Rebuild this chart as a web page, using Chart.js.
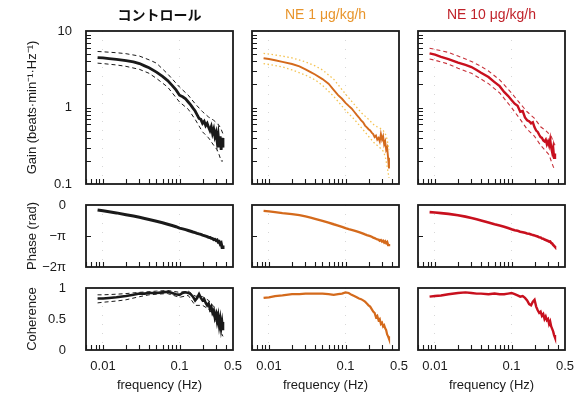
<!DOCTYPE html>
<html>
<head>
<meta charset="utf-8">
<script src="https://cdn.jsdelivr.net/npm/chart.js@4.4.1/dist/chart.umd.min.js"></script>
<style>
  body { margin: 0; background: #fff; }
  #fig { position: relative; width: 584px; height: 396px; }
  #fig canvas { position: absolute; left: 0; top: 0; }
</style>
</head>
<body>
<div id="fig"></div>
<script>
// frequency grid of the transfer function estimates (Hz)
const freqs = [0.0085, 0.01, 0.012, 0.015, 0.02, 0.025, 0.03, 0.035, 0.04,
  0.05, 0.06, 0.07, 0.08, 0.09,
  0.1, 0.11, 0.12, 0.13, 0.14, 0.15, 0.16, 0.17, 0.18, 0.19,
  0.2, 0.21, 0.22, 0.23, 0.24, 0.25, 0.26, 0.27, 0.28, 0.29,
  0.3, 0.31, 0.32, 0.33, 0.34, 0.35, 0.36, 0.37];
// coarser grid for the confidence limits
const ciFreqs = [0.0085, 0.01, 0.015, 0.02, 0.03, 0.04, 0.05, 0.07, 0.1,
  0.13, 0.16, 0.2, 0.24, 0.28, 0.31, 0.33, 0.35, 0.37];

// gain (beats/min/Hz)
const gainCtrl = [4.5, 4.45, 4.35, 4.25, 4.1, 3.95, 3.75, 3.5, 3.3,
  2.9, 2.55, 2.25, 1.95, 1.7,
  1.45, 1.38, 1.3, 1.18, 1.08, 0.98, 0.9, 0.8, 0.72, 0.7,
  0.62, 0.66, 0.58, 0.62, 0.55, 0.5, 0.56, 0.46, 0.52, 0.42,
  0.47, 0.36, 0.44, 0.3, 0.42, 0.28, 0.4, 0.3];
const gainCtrlHi = [5.4, 5.35, 5.2, 5.05, 4.7, 4.2, 3.8, 2.75, 1.85, 1.45, 1.12, 0.88, 0.75, 0.68, 0.62, 0.58, 0.52, 0.45];
const gainCtrlLo = [3.8, 3.75, 3.6, 3.45, 3.15, 2.8, 2.4, 1.85, 1.18, 0.95, 0.7, 0.48, 0.4, 0.32, 0.28, 0.24, 0.2, 0.2];

const gainNe1 = [4.4, 4.3, 4.15, 3.95, 3.7, 3.45, 3.15, 2.9, 2.7,
  2.35, 2.05, 1.7, 1.45, 1.3,
  1.15, 1.05, 0.97, 0.88, 0.8, 0.74, 0.68, 0.64, 0.58, 0.55,
  0.52, 0.5, 0.47, 0.45, 0.41, 0.43, 0.38, 0.4, 0.36, 0.45,
  0.38, 0.42, 0.33, 0.36, 0.28, 0.3, 0.22, 0.16];
const gainNe1Hi = [5.1, 5.0, 4.7, 4.45, 3.95, 3.5, 3.1, 2.35, 1.5, 1.1, 0.86, 0.7, 0.58, 0.54, 0.5, 0.46, 0.38, 0.28];
const gainNe1Lo = [3.75, 3.65, 3.4, 3.1, 2.65, 2.3, 1.95, 1.4, 0.92, 0.7, 0.55, 0.42, 0.34, 0.3, 0.27, 0.23, 0.17, 0.12];

const gainNe10 = [5.1, 4.9, 4.6, 4.3, 3.85, 3.6, 3.38, 3.1, 2.85,
  2.5, 2.15, 1.9, 1.6, 1.42,
  1.25, 1.12, 1.05, 0.88, 0.9, 0.74, 0.68, 0.66, 0.62, 0.64,
  0.55, 0.5, 0.48, 0.44, 0.41, 0.4, 0.37, 0.36, 0.38, 0.33,
  0.36, 0.32, 0.38, 0.3, 0.26, 0.3, 0.22, 0.25];
const gainNe10Hi = [5.95, 5.75, 5.25, 4.7, 4.0, 3.45, 3.0, 2.3, 1.55, 1.12, 0.88, 0.72, 0.56, 0.5, 0.45, 0.42, 0.36, 0.32];
const gainNe10Lo = [4.3, 4.15, 3.7, 3.25, 2.8, 2.35, 2.05, 1.55, 1.0, 0.7, 0.52, 0.42, 0.32, 0.27, 0.24, 0.2, 0.17, 0.15];

// phase (rad)
const phaseCtrl = [-0.5, -0.58, -0.68, -0.8, -0.98, -1.12, -1.25, -1.37, -1.47,
  -1.65, -1.8, -1.95, -2.08, -2.2,
  -2.35, -2.42, -2.5, -2.58, -2.66, -2.74, -2.8, -2.87, -2.93, -2.98,
  -3.05, -3.1, -3.15, -3.2, -3.28, -3.3, -3.38, -3.4, -3.5, -3.48,
  -3.6, -3.55, -3.75, -3.7, -3.95, -3.85, -4.3, -4.1];
const phaseNe1 = [-0.6, -0.65, -0.72, -0.82, -0.92, -1.02, -1.15, -1.28, -1.4,
  -1.6, -1.78, -1.95, -2.08, -2.22,
  -2.35, -2.45, -2.52, -2.6, -2.68, -2.75, -2.82, -2.9, -2.98, -3.05,
  -3.1, -3.15, -3.22, -3.3, -3.35, -3.42, -3.48, -3.5, -3.62, -3.55,
  -3.7, -3.62, -3.8, -3.68, -3.85, -3.75, -4.05, -3.95];
const phaseNe10 = [-0.72, -0.76, -0.82, -0.9, -1.03, -1.18, -1.32, -1.45, -1.56,
  -1.78, -1.95, -2.08, -2.2, -2.33,
  -2.45, -2.55, -2.62, -2.7, -2.76, -2.82, -2.88, -2.92, -2.98, -3.05,
  -3.08, -3.15, -3.2, -3.28, -3.3, -3.4, -3.42, -3.5, -3.55, -3.6,
  -3.65, -3.72, -3.7, -3.85, -3.9, -4.05, -4.15, -4.25];

// coherence
const cohCtrl = [0.83, 0.83, 0.84, 0.85, 0.87, 0.89, 0.91, 0.91, 0.92,
  0.92, 0.93, 0.94, 0.92, 0.9,
  0.89, 0.92, 0.93, 0.92, 0.9, 0.86, 0.8, 0.84, 0.9, 0.84,
  0.8, 0.82, 0.76, 0.72, 0.75, 0.66, 0.7, 0.6, 0.64, 0.52,
  0.58, 0.46, 0.55, 0.4, 0.5, 0.35, 0.45, 0.32];
const cohCtrlHi = [0.89, 0.89, 0.9, 0.91, 0.93, 0.94, 0.95, 0.96, 0.93, 0.95, 0.87, 0.86, 0.8, 0.7, 0.62, 0.55, 0.5, 0.45];
const cohCtrlLo = [0.76, 0.77, 0.79, 0.81, 0.86, 0.89, 0.9, 0.91, 0.85, 0.88, 0.72, 0.72, 0.66, 0.55, 0.42, 0.35, 0.28, 0.22];
const cohNe1 = [0.84, 0.85, 0.87, 0.88, 0.9, 0.9, 0.91, 0.91, 0.91,
  0.91, 0.9, 0.89, 0.9, 0.91,
  0.93, 0.92, 0.89, 0.87, 0.85, 0.83, 0.82, 0.8, 0.78, 0.75,
  0.72, 0.7, 0.66, 0.62, 0.6, 0.53, 0.55, 0.48, 0.5, 0.42,
  0.44, 0.38, 0.4, 0.35, 0.32, 0.25, 0.22, 0.18];
const cohNe10 = [0.86, 0.87, 0.88, 0.9, 0.92, 0.93, 0.92, 0.91, 0.91,
  0.9, 0.91, 0.9, 0.9, 0.91,
  0.92, 0.9, 0.88, 0.86, 0.87, 0.84, 0.8, 0.74, 0.72, 0.78,
  0.81, 0.7, 0.64, 0.6, 0.62, 0.55, 0.58, 0.5, 0.54, 0.48,
  0.5, 0.42, 0.46, 0.38, 0.34, 0.3, 0.24, 0.2];

const groupTitles = ['コントロール', 'NE 1 μg/kg/h', 'NE 10 μg/kg/h'];
const rowTitles = ['Gain (beats·min⁻¹·Hz⁻¹)', 'Phase (rad)', 'Coherence'];
const freqTicks = [0.01, 0.1, 0.5];
const freqMinorTicks = [0.006, 0.007, 0.008, 0.009, 0.01, 0.02, 0.03, 0.04, 0.05,
  0.06, 0.07, 0.08, 0.09, 0.1, 0.2, 0.3, 0.4];
const gainTicks = [0.1, 1, 10];
const gainMinorTicks = [0.2, 0.3, 0.4, 0.5, 0.6, 0.7, 0.8, 0.9, 1, 2, 3, 4, 5, 6, 7, 8, 9];
const phaseTicks = [-2 * Math.PI, -Math.PI, 0];
const phaseTickLabels = ['−2π', '−π', '0'];
const cohTicks = [0, 0.5, 1];

// panel boxes in page pixels
const colLeft = [86, 252, 418], colRight = [233, 399, 565];
const rowTop = [31, 205, 288], rowBottom = [184, 267, 350];

const groupColors = ['#111', '#e8952c', '#c0222a'];
const lineColors = ['#1a1a1a', '#d46a1c', '#c8101e'];

Chart.defaults.font.family = "'Liberation Sans', Arial, sans-serif";
Chart.defaults.color = '#1a1a1a';

// frame plus inward tick marks
const panelFrame = {
  id: 'panelFrame',
  afterDraw(chart, args, opts) {
    const { ctx, chartArea: a, scales } = chart;
    ctx.save();
    ctx.strokeStyle = '#1a1a1a';
    ctx.lineWidth = 1.8;
    ctx.strokeRect(a.left, a.top, a.right - a.left, a.bottom - a.top);
    ctx.lineWidth = 1.1;
    ctx.beginPath();
    for (const v of freqMinorTicks) {
      const x = Math.round(scales.x.getPixelForValue(v)) + 0.5;
      ctx.moveTo(x, a.bottom);
      ctx.lineTo(x, a.bottom - 5);
    }
    for (const v of opts.yTicks || []) {
      const y = Math.round(scales.y.getPixelForValue(v)) + 0.5;
      ctx.moveTo(a.left, y);
      ctx.lineTo(a.left + 5, y);
    }
    ctx.stroke();
    ctx.restore();
  }
};

function series(xs, ys, color, width, dash) {
  return {
    data: xs.map((x, i) => ({ x: x, y: ys[i] })),
    borderColor: color,
    borderWidth: width,
    borderDash: dash || [],
    pointRadius: 0,
    tension: 0,
    fill: false
  };
}

function yAxis(row, col) {
  const first = col === 0;
  const base = {
    afterFit: s => { s.width = first ? colLeft[0] : 0; },
    grid: { display: false },
    border: { display: false },
    title: {
      display: first, text: rowTitles[row],
      font: { size: 13 }, padding: { top: 25, bottom: 0 }
    }
  };
  if (row === 0) {
    return Object.assign(base, {
      type: 'logarithmic', min: 0.1, max: 10,
      afterBuildTicks: s => { s.ticks = gainTicks.map(v => ({ value: v })); },
      ticks: { display: first, padding: 6, font: { size: 13 }, callback: v => String(v) }
    });
  }
  if (row === 1) {
    return Object.assign(base, {
      type: 'linear', min: -2 * Math.PI, max: 0,
      afterBuildTicks: s => { s.ticks = phaseTicks.map(v => ({ value: v })); },
      ticks: { display: first, padding: 12, font: { size: 13 }, callback: (v, i) => phaseTickLabels[i] }
    });
  }
  return Object.assign(base, {
    type: 'linear', min: 0, max: 1,
    afterBuildTicks: s => { s.ticks = cohTicks.map(v => ({ value: v })); },
    ticks: { display: first, padding: 12, font: { size: 13 }, callback: v => String(v) }
  });
}

function panel(row, col, datasets, yMinor) {
  const cv = document.createElement('canvas');
  cv.width = 584;
  cv.height = 396;
  document.getElementById('fig').appendChild(cv);
  const bottom = row === 2;
  return new Chart(cv, {
    type: 'line',
    data: { datasets: datasets },
    options: {
      responsive: false,
      animation: false,
      devicePixelRatio: 1,
      layout: {
        padding: {
          left: col === 0 ? 0 : colLeft[col],
          right: 584 - colRight[col],
          top: row === 0 ? 0 : rowTop[row],
          bottom: bottom ? 0 : 396 - rowBottom[row]
        }
      },
      plugins: {
        legend: { display: false },
        tooltip: { enabled: false },
        title: {
          display: row === 0,
          fullSize: false,
          text: groupTitles[col],
          color: groupColors[col],
          font: {
            size: 14, weight: col === 0 ? 'bold' : 'normal',
            family: col === 0 ? "'Noto Sans CJK JP', sans-serif" : "'Liberation Sans', Arial, sans-serif"
          },
          padding: { top: 6.6, bottom: 7.6 }
        },
        panelFrame: { yTicks: yMinor }
      },
      scales: {
        x: {
          type: 'logarithmic', min: 0.006, max: 0.5,
          afterBuildTicks: s => { s.ticks = freqTicks.map(v => ({ value: v })); },
          afterFit: s => { s.height = bottom ? 46 : 0; },
          ticks: {
            display: bottom, autoSkip: false, maxRotation: 0, padding: 9,
            font: { size: 13 }, callback: v => String(v)
          },
          grid: {
            drawTicks: false,
            color: c => (c.tick && c.tick.value === 0.5) ? 'rgba(0,0,0,0)' : 'rgba(140,140,140,0.35)'
          },
          border: { display: false, dash: [1, 8] },
          title: {
            display: bottom, text: 'frequency (Hz)',
            font: { size: 13 }, padding: { top: 0, bottom: 3 }
          }
        },
        y: yAxis(row, col)
      }
    },
    plugins: [panelFrame]
  });
}

// gain row
panel(0, 0, [
  series(ciFreqs, gainCtrlHi, lineColors[0], 1, [4, 3]),
  series(ciFreqs, gainCtrlLo, lineColors[0], 1, [4, 3]),
  series(freqs, gainCtrl, lineColors[0], 2.8)
], gainMinorTicks);
panel(0, 1, [
  series(ciFreqs, gainNe1Hi, '#f4c352', 1.3, [1.5, 2.5]),
  series(ciFreqs, gainNe1Lo, '#f4c352', 1.3, [1.5, 2.5]),
  series(freqs, gainNe1, lineColors[1], 1.9)
], gainMinorTicks);
panel(0, 2, [
  series(ciFreqs, gainNe10Hi, '#c8323a', 1.1, [4, 3]),
  series(ciFreqs, gainNe10Lo, '#c8323a', 1.1, [4, 3]),
  series(freqs, gainNe10, lineColors[2], 2.4)
], gainMinorTicks);

// phase row
panel(1, 0, [series(freqs, phaseCtrl, lineColors[0], 3)], [-Math.PI]);
panel(1, 1, [series(freqs, phaseNe1, lineColors[1], 2.4)], [-Math.PI]);
panel(1, 2, [series(freqs, phaseNe10, lineColors[2], 2.6)], [-Math.PI]);

// coherence row
panel(2, 0, [
  series(ciFreqs, cohCtrlHi, lineColors[0], 1, [4, 3]),
  series(ciFreqs, cohCtrlLo, lineColors[0], 1, [4, 3]),
  series(freqs, cohCtrl, lineColors[0], 2.6)
], []);
panel(2, 1, [series(freqs, cohNe1, lineColors[1], 2.2)], []);
panel(2, 2, [series(freqs, cohNe10, lineColors[2], 2.4)], []);
</script>
</body>
</html>
